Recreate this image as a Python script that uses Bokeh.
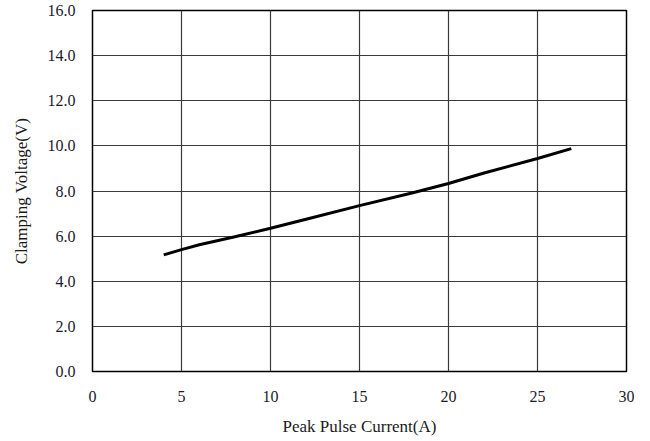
from bokeh.plotting import figure
from bokeh.models import Range1d, FixedTicker, PrintfTickFormatter
from bokeh.embed import file_html
from bokeh.resources import INLINE

# Data
current = [4.0, 5.0, 6.0, 8.0, 10.0, 12.0, 15.0, 18.0, 20.0, 22.0, 25.0, 26.9]
voltage = [5.17, 5.40, 5.62, 5.97, 6.35, 6.75, 7.35, 7.92, 8.33, 8.80, 9.44, 9.88]
x_ticks = [0, 5, 10, 15, 20, 25, 30]
y_ticks = [0, 2, 4, 6, 8, 10, 12, 14, 16]

FONT = "Liberation Serif"

p = figure(width=634, height=438, output_backend="svg", toolbar_location=None,
           x_range=Range1d(0, 30), y_range=Range1d(0, 16),
           min_border_left=92, min_border_right=8, min_border_top=10, min_border_bottom=50)
p.background_fill_color = "white"
p.border_fill_color = "white"
p.outline_line_color = "black"
p.outline_line_width = 1.5

p.line(current, voltage, line_color="black", line_width=3)

p.xaxis.ticker = FixedTicker(ticks=x_ticks)
p.yaxis.ticker = FixedTicker(ticks=y_ticks)
p.yaxis.formatter = PrintfTickFormatter(format="%.1f")
p.xgrid.ticker = FixedTicker(ticks=x_ticks)
p.ygrid.ticker = FixedTicker(ticks=y_ticks)
for g in (p.xgrid, p.ygrid):
    g.grid_line_color = "#3a3a3a"
    g.grid_line_width = 1.2
    g.grid_line_alpha = 1.0

for ax in (p.xaxis, p.yaxis):
    ax.axis_line_color = None
    ax.major_tick_line_color = None
    ax.minor_tick_line_color = None
    ax.major_tick_out = 0
    ax.major_tick_in = 0
    ax.major_label_text_font = FONT
    ax.major_label_text_font_size = "16px"
    ax.major_label_text_color = "#1a1a2e"
    ax.axis_label_text_font = FONT
    ax.axis_label_text_font_size = "17px"
    ax.axis_label_text_font_style = "normal"
    ax.axis_label_text_color = "#1a1a1a"

p.xaxis.axis_label = "Peak Pulse Current(A)"
p.yaxis.axis_label = "Clamping Voltage(V)"
p.xaxis.major_label_standoff = 19
p.yaxis.major_label_standoff = 17
p.xaxis.axis_label_standoff = 12
p.yaxis.axis_label_standoff = 14

open("out.html", "w").write(file_html(p, INLINE))
